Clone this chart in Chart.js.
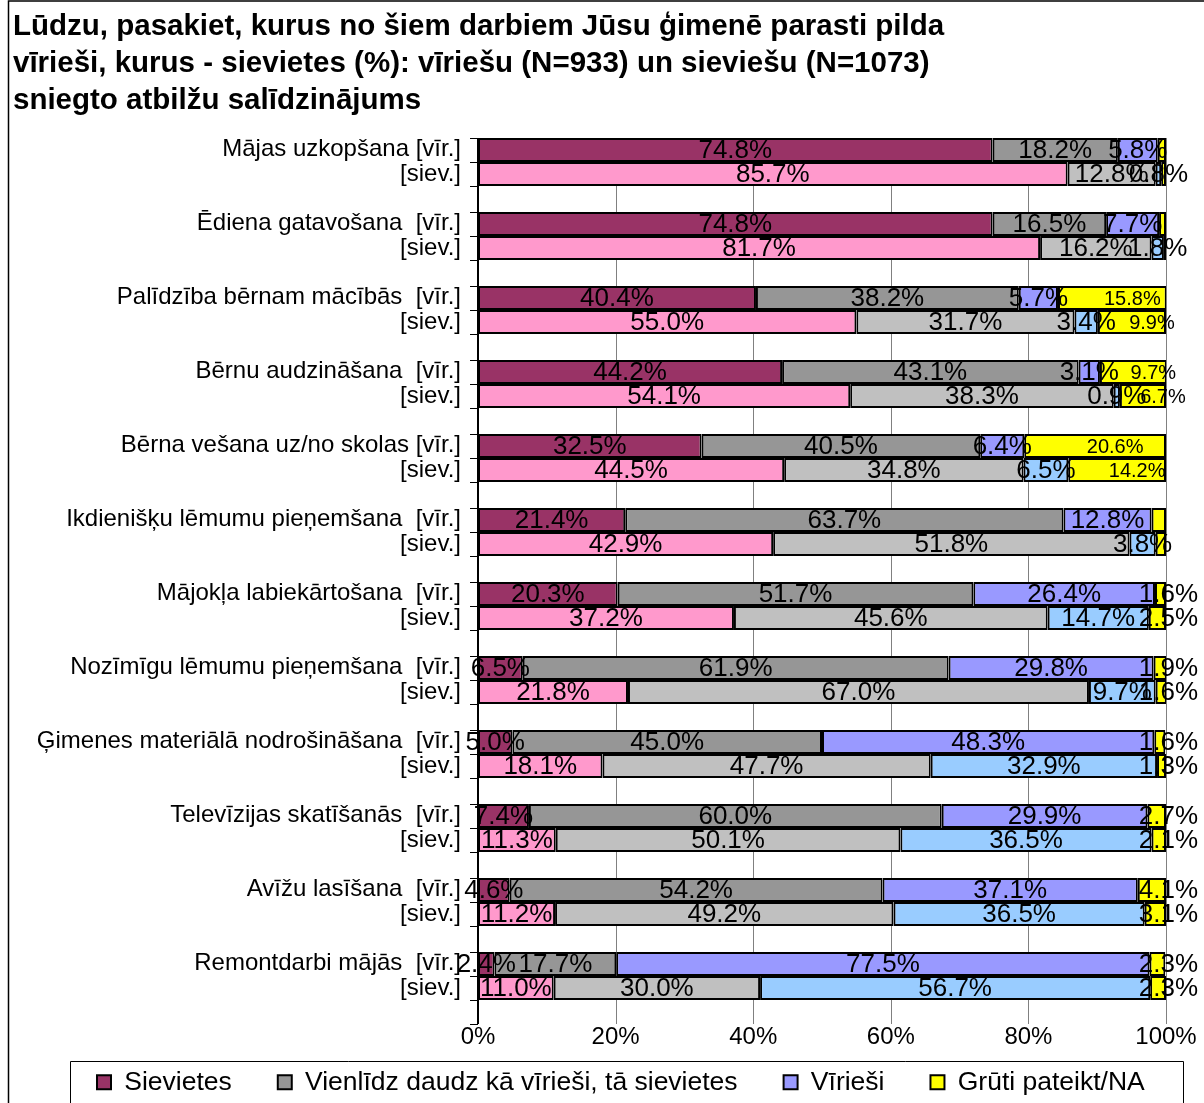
<!DOCTYPE html>
<html>
<head>
<meta charset="utf-8">
<script src="https://cdn.jsdelivr.net/npm/chart.js@4.4.0/dist/chart.umd.min.js"></script>
<style>
  html, body { margin: 0; padding: 0; background: #fff; }
</style>
</head>
<body>
<canvas id="myChart" width="1204" height="1103"></canvas>
<script>
// Kategorijas (pirmā rinda - vīrieši, otrā - sievietes)
const labelsVir = [
    'Mājas uzkopšana [vīr.]',
    'Ēdiena gatavošana  [vīr.]',
    'Palīdzība bērnam mācībās  [vīr.]',
    'Bērnu audzināšana  [vīr.]',
    'Bērna vešana uz/no skolas [vīr.]',
    'Ikdienišķu lēmumu pieņemšana  [vīr.]',
    'Mājokļa labiekārtošana  [vīr.]',
    'Nozīmīgu lēmumu pieņemšana  [vīr.]',
    'Ģimenes materiālā nodrošināšana  [vīr.]',
    'Televīzijas skatīšanās  [vīr.]',
    'Avīžu lasīšana  [vīr.]',
    'Remontdarbi mājās  [vīr.]'
];
const labelSiev = '[siev.]';

const seriesNames = ['Sievietes', 'Vienlīdz daudz kā vīrieši, tā sievietes', 'Vīrieši', 'Grūti pateikt/NA'];

// vīriešu atbildes (%)
const sievietesVir = [74.8, 74.8, 40.4, 44.2, 32.5, 21.4, 20.3, 6.5, 5.0, 7.4, 4.6, 2.4];
const vienlidzVir = [18.2, 16.5, 38.2, 43.1, 40.5, 63.7, 51.7, 61.9, 45.0, 60.0, 54.2, 17.7];
const viriesiVir = [5.8, 7.7, 5.7, 3.1, 6.4, 12.8, 26.4, 29.8, 48.3, 29.9, 37.1, 77.5];
const grutiVir = [1.2, 1.0, 15.8, 9.7, 20.6, 2.1, 1.6, 1.9, 1.6, 2.7, 4.1, 2.3];

// sieviešu atbildes (%)
const sievietesSiev = [85.7, 81.7, 55.0, 54.1, 44.5, 42.9, 37.2, 21.8, 18.1, 11.3, 11.2, 11.0];
const vienlidzSiev = [12.8, 16.2, 31.7, 38.3, 34.8, 51.8, 45.6, 67.0, 47.7, 50.1, 49.2, 30.0];
const viriesiSiev = [0.8, 1.8, 3.4, 0.9, 6.5, 3.8, 14.7, 9.7, 32.9, 36.5, 36.5, 56.7];
const grutiSiev = [0.7, 0.3, 9.9, 6.7, 14.2, 1.5, 2.5, 1.6, 1.3, 2.1, 3.1, 2.3];

const xTicks = [0, 20, 40, 60, 80, 100];

const colorsVir = ['#993366', '#969696', '#9999FF', '#FFFF00'];
const colorsSiev = ['#FF99CC', '#C0C0C0', '#99CCFF', '#FFFF00'];

const FONT = '"Liberation Sans", Arial, sans-serif';
Chart.defaults.font.family = FONT;
Chart.defaults.color = '#000';

// dzeltenās etiķetes: kuras nerāda, kuras mazākas
const yellowHidden = [0, 1, 5];
const yellowSmall = [2, 3, 4];

const virData = [sievietesVir, vienlidzVir, viriesiVir, grutiVir];
const sievData = [sievietesSiev, vienlidzSiev, viriesiSiev, grutiSiev];

let datasets = [];
virData.forEach((d, i) => {
    datasets.push({
        label: seriesNames[i],
        data: d,
        stack: 'vir',
        backgroundColor: colorsVir[i],
        borderColor: '#000',
        borderWidth: 2,
        borderSkipped: false,
        yellow: i === 3
    });
});
sievData.forEach((d, i) => {
    datasets.push({
        label: seriesNames[i],
        data: d,
        stack: 'siev',
        backgroundColor: colorsSiev[i],
        borderColor: '#000',
        borderWidth: 2,
        borderSkipped: false,
        yellow: i === 3
    });
});

// balts fons un rāmis
const framePlugin = {
    id: 'frame',
    beforeDraw(chart) {
        const ctx = chart.ctx;
        ctx.save();
        ctx.fillStyle = '#fff';
        ctx.fillRect(0, 0, chart.width, chart.height);
        ctx.restore();
    },
    afterDraw(chart) {
        const ctx = chart.ctx;
        ctx.save();
        ctx.strokeStyle = '#000';
        ctx.lineWidth = 1.5;
        ctx.beginPath();
        ctx.moveTo(8.5, chart.height);
        ctx.lineTo(8.5, 1);
        ctx.lineTo(chart.width, 1);
        ctx.stroke();

        // leģendas rāmis
        const hb = chart.legend.legendHitBoxes;
        if (hb && hb.length) {
            const first = hb[0], last = hb[hb.length - 1];
            const cy = first.top + first.height / 2;
            const l = Math.round(first.left - 27) + 0.5;
            const r = Math.round(last.left + last.width + 38) + 0.5;
            const t = Math.round(cy - 21) + 0.5;
            ctx.lineWidth = 1;
            ctx.beginPath();
            ctx.moveTo(l, chart.height + 2);
            ctx.lineTo(l, t);
            ctx.lineTo(r, t);
            ctx.lineTo(r, chart.height + 2);
            ctx.stroke();
        }
        ctx.restore();
    }
};

// režģa līnijas, ass un iedaļas
const axisPlugin = {
    id: 'axisLines',
    beforeDatasetsDraw(chart) {
        const ctx = chart.ctx;
        const x = chart.scales.x;
        const vir = chart.getDatasetMeta(0).data;
        const siev = chart.getDatasetMeta(4).data;
        const top = vir[0].y - vir[0].height / 2;
        const last = siev[siev.length - 1];
        const bottom = last.y + last.height / 2 + last.height;
        ctx.save();
        ctx.strokeStyle = '#808080';
        ctx.lineWidth = 1;
        xTicks.forEach(v => {
            if (v === 0) return;
            const px = Math.round(x.getPixelForValue(v)) + 0.5;
            ctx.beginPath();
            ctx.moveTo(px, top);
            ctx.lineTo(px, bottom);
            ctx.stroke();
        });
        const x0 = x.getPixelForValue(0);
        ctx.strokeStyle = '#000';
        ctx.beginPath();
        vir.forEach((b, j) => {
            const s = siev[j];
            [b.y - b.height / 2, b.y + b.height / 2, s.y + s.height / 2].forEach(ty => {
                ctx.moveTo(x0 - 8, Math.round(ty) + 0.5);
                ctx.lineTo(x0, Math.round(ty) + 0.5);
            });
        });
        ctx.moveTo(x0 - 8, Math.round(bottom) + 0.5);
        ctx.lineTo(x0, Math.round(bottom) + 0.5);
        ctx.stroke();
        ctx.lineWidth = 2;
        ctx.beginPath();
        ctx.moveTo(x0, top);
        ctx.lineTo(x0, bottom);
        ctx.stroke();
        ctx.restore();
    }
};

// vērtību etiķetes
const labelPlugin = {
    id: 'barLabels',
    afterDatasetsDraw(chart) {
        const ctx = chart.ctx;
        const right = chart.width - 6;
        ctx.save();
        ctx.fillStyle = '#000';
        ctx.textBaseline = 'middle';
        ctx.textAlign = 'center';
        chart.data.datasets.forEach((ds, i) => {
            const meta = chart.getDatasetMeta(i);
            meta.data.forEach((bar, j) => {
                if (ds.yellow && yellowHidden.includes(j)) return;
                const small = ds.yellow && yellowSmall.includes(j);
                ctx.font = (small ? '20px ' : '26px ') + FONT;
                const txt = ds.data[j].toFixed(1) + '%';
                const w = ctx.measureText(txt).width;
                let cx = (bar.x + bar.base) / 2;
                if (ds.yellow) {
                    cx = Math.min(cx + 20, right - w / 2);
                }
                ctx.fillText(txt, cx, bar.y + 1);
            });
        });
        ctx.restore();
    }
};

// leģendas novietojums
const legendPlace = {
    id: 'legendPlace',
    afterLayout(chart) {
        const lg = chart.legend;
        const pad = lg.options.labels.padding;
        const start = (lg.left + pad + lg.right - lg.lineWidths[0]) / 2;
        const dx = 97 - start;
        lg.left += dx;
        lg.right += dx;
        lg.top = 1082 - 13 - pad;
        lg.bottom = chart.height;
        lg.height = lg.bottom - lg.top;
    }
};

let ctx = document.getElementById('myChart').getContext('2d');
let myChart = new Chart(ctx, {
    type: 'bar',
    data: {
        labels: labelsVir.map(l => [l, labelSiev]),
        datasets: datasets
    },
    options: {
        indexAxis: 'y',
        responsive: false,
        animation: false,
        categoryPercentage: 48 / 74,
        barPercentage: 1.0,
        layout: {
            padding: { left: 13, right: 38, top: 0, bottom: 0 }
        },
        plugins: {
            title: {
                display: true,
                align: 'start',
                text: [
                    'Lūdzu, pasakiet, kurus no šiem darbiem Jūsu ģimenē parasti pilda',
                    'vīrieši, kurus - sievietes (%): vīriešu (N=933) un sieviešu (N=1073)',
                    'sniegto atbilžu salīdzinājums'
                ],
                color: '#000',
                font: { size: 29.5, weight: 'bold', lineHeight: '37px' },
                padding: { top: 8, bottom: 6 }
            },
            legend: {
                position: 'bottom',
                maxHeight: 54,
                labels: {
                    boxWidth: 14,
                    boxHeight: 14,
                    padding: 46,
                    color: '#000',
                    font: { size: 26.5 },
                    filter: item => item.datasetIndex < 4
                }
            },
            tooltip: { enabled: false }
        },
        scales: {
            x: {
                stacked: true,
                min: 0,
                max: 100,
                afterFit: s => {
                    s.height = 36;
                    s.paddingLeft = 0;
                    s.paddingRight = 0;
                },
                afterBuildTicks: s => { s.ticks = xTicks.map(v => ({ value: v })); },
                grid: { display: false, drawTicks: false },
                border: { display: false },
                ticks: {
                    padding: 10,
                    font: { size: 24 },
                    callback: v => v + '%'
                }
            },
            y: {
                afterFit: s => { s.width = 465; },
                grid: { display: false, drawTicks: false },
                border: { display: false },
                ticks: {
                    autoSkip: false,
                    padding: 17,
                    font: { size: 24, lineHeight: '25px' }
                }
            }
        }
    },
    plugins: [framePlugin, axisPlugin, labelPlugin, legendPlace]
});
</script>
</body>
</html>
